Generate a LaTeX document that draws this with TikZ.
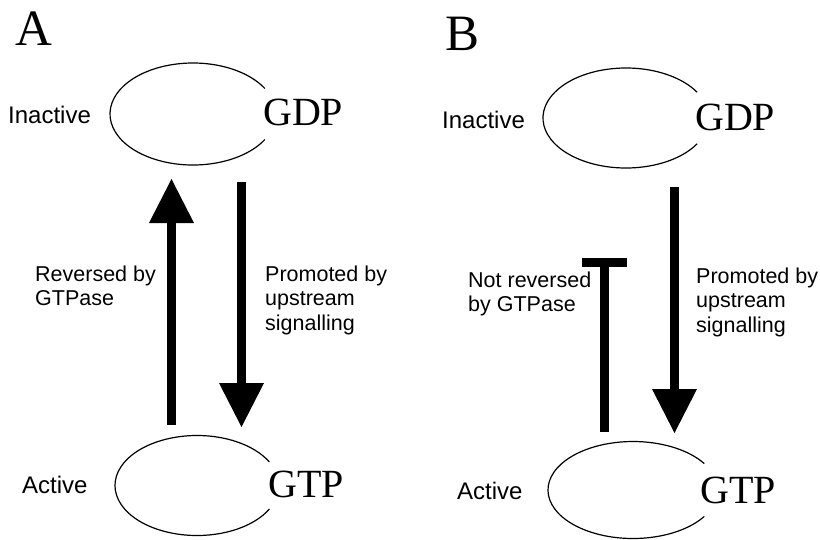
\documentclass[tikz,border=0pt]{standalone}
\usepackage{fontspec}
\setmainfont{Liberation Serif}
\setsansfont{Liberation Sans}
\usetikzlibrary{arrows.meta}

\begin{document}
\begin{tikzpicture}[x=1pt, y=-1pt,
    panel/.style={font=\fontsize{51}{56}\selectfont, anchor=base west, inner sep=0pt},
    nuc/.style={font=\fontsize{40}{44}\selectfont, anchor=base west, inner sep=0pt},
    statelbl/.style={font=\sffamily\fontsize{24}{28}\selectfont, anchor=base west, inner sep=0pt},
    steplbl/.style={font=\sffamily\fontsize{21.5}{24.5}\selectfont, align=left, anchor=base west, inner sep=0pt},
    shell/.style={line width=1.2pt},
    fwd/.style={line width=9pt, -{Triangle[width=45pt,length=44pt,line width=0pt]}},
    block/.style={line width=9pt, -{Rectangle[width=45pt,length=9pt,line width=0pt]}}]
    \useasboundingbox (0,0) rectangle (820,539);

    % panel A
    \node[panel] (A) at (15,45) {A};
    \coordinate (inA) at (193,114);
    \coordinate (acA) at (197,485.5);
    \draw[shell] (inA) ++(30:83 and 51) arc[start angle=30, end angle=330, x radius=83, y radius=51];
    \draw[shell] (acA) ++(28:82 and 50) arc[start angle=28, end angle=332, x radius=82, y radius=50];
    \node[nuc] (gdpA) at (263,125) {GDP};
    \node[nuc] (gtpA) at (268,497) {GTP};
    \node[statelbl] (inactA) at (8,123) {Inactive};
    \node[statelbl] (actA) at (22,493) {Active};

    \coordinate (revA0) at (171.5,425);
    \coordinate (revA1) at (171.5,179);
    \coordinate (proA0) at (241.5,182);
    \coordinate (proA1) at (241.5,427);
    \draw[fwd] (revA0) -- (revA1);
    \draw[fwd] (proA0) -- (proA1);
    % base anchor sits on the last line
    \node[steplbl] (revlblA) at (35,305.5) {Reversed by\\GTPase};
    \node[steplbl] (prolblA) at (265,330) {Promoted by\\upstream\\signalling};

    % panel B
    \node[panel] (B) at (445,50) {B};
    \coordinate (inB) at (626,118);
    \coordinate (acB) at (633,490);
    \draw[shell] (inB) ++(31:83 and 50) arc[start angle=31, end angle=329, x radius=83, y radius=50];
    \draw[shell] (acB) ++(33:85 and 48.5) arc[start angle=33, end angle=327, x radius=85, y radius=48.5];
    \node[nuc] (gdpB) at (695,130) {GDP};
    \node[nuc] (gtpB) at (700,503) {GTP};
    \node[statelbl] (inactB) at (442,128) {Inactive};
    \node[statelbl] (actB) at (457,499) {Active};

    \coordinate (revB0) at (604.5,432);
    \coordinate (revB1) at (604.5,258);
    \coordinate (proB0) at (674.5,187);
    \coordinate (proB1) at (674.5,433);
    \draw[block] (revB0) -- (revB1);
    \draw[fwd] (proB0) -- (proB1);
    \node[steplbl] (revlblB) at (468,311.5) {Not reversed\\by GTPase};
    \node[steplbl] (prolblB) at (696,332) {Promoted by\\upstream\\signalling};
\end{tikzpicture}
\end{document}
